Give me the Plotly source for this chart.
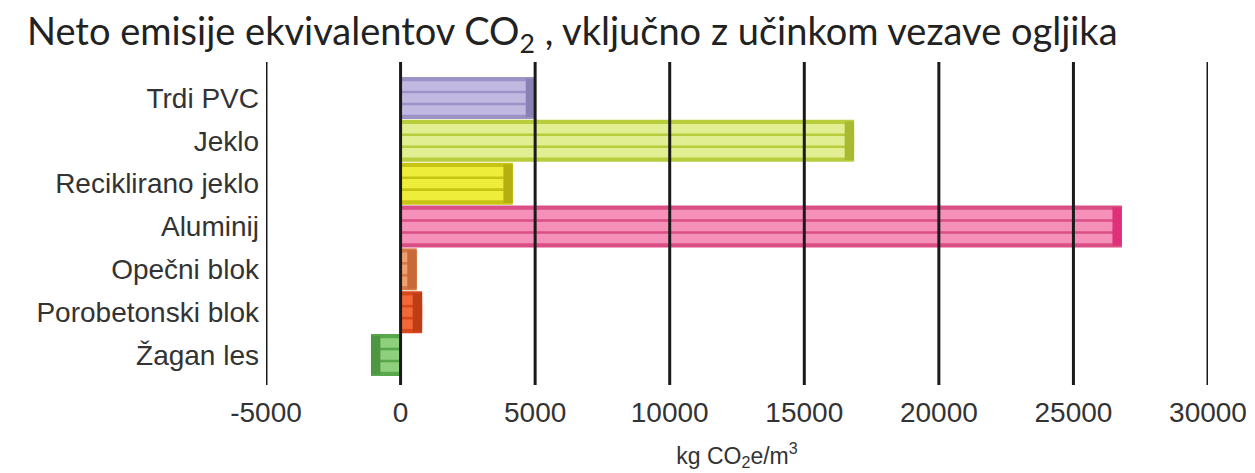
import plotly.graph_objects as go

categories = ["Trdi PVC", "Jeklo", "Reciklirano jeklo", "Aluminij", "Opečni blok", "Porobetonski blok", "Žagan les"]
values = [5000, 16850, 4170, 26800, 600, 800, -1100]
tick_vals = [-5000, 0, 5000, 10000, 15000, 20000, 25000, 30000]
tick_text = ["-5000", "0", "5000", "10000", "15000", "20000", "25000", "30000"]

dark_cols = ["#9c92c6", "#b9cc3c", "#c8c414", "#d94f86", "#d87a48", "#d9481c", "#5aa64c"]
light_cols = ["#c2b9e2", "#e2ee92", "#eeee3a", "#f590b9", "#f0a070", "#f26838", "#8fd07e"]
cap_cols = ["#8a80b5", "#a8bb30", "#b5b010", "#e0307a", "#c86a38", "#c03c14", "#4e9642"]

fig = go.Figure()
layers = [(0.98, dark_cols), (0.78, light_cols), (0.34, dark_cols), (0.22, light_cols)]
for w, cols in layers:
    fig.add_trace(go.Bar(
        y=categories, x=values, orientation="h", width=w,
        marker=dict(color=cols, line=dict(width=0)),
        hoverinfo="skip", showlegend=False,
    ))

cap = 350
fig.add_trace(go.Bar(
    y=categories, x=[cap if v > 0 else -cap for v in values],
    base=[v - cap if v > 0 else v + cap for v in values],
    orientation="h", width=0.9,
    marker=dict(color=cap_cols, line=dict(width=0)),
    hoverinfo="skip", showlegend=False,
))

for t in tick_vals:
    fig.add_shape(type="line", xref="x", yref="paper", x0=t, x1=t, y0=0, y1=1,
                  line=dict(color="#1a1a1a", width=3), layer="above")

fig.update_layout(
    barmode="overlay",
    width=1247, height=465,
    margin=dict(l=258, r=47, t=54, b=88, autoexpand=False),
    paper_bgcolor="white", plot_bgcolor="white",
    title=dict(text="Neto emisije ekvivalentov CO<sub>2</sub> , vključno z učinkom vezave ogljika",
               x=19 / 1247, xanchor="left", y=0.95, yanchor="middle",
               font=dict(family="Lato, Open Sans, sans-serif", size=38, color="#222")),
    xaxis=dict(range=[-5000, 30000], tickvals=tick_vals, ticktext=tick_text,
               showgrid=False, zeroline=False, showline=False, ticks="", automargin=False,
               ticklabelstandoff=8,
               tickfont=dict(family="Liberation Sans, Arial, sans-serif", size=28, color="#333"),
               title=dict(text="kg CO<sub>2</sub>e/m<sup>3</sup>",
                          font=dict(family="Liberation Sans, Arial, sans-serif", size=23, color="#333"),
                          standoff=20)),
    yaxis=dict(range=[6.7, -0.84], showgrid=False, zeroline=False, showline=False, ticks="",
               automargin=False, ticklabelstandoff=6,
               tickfont=dict(family="Liberation Sans, Arial, sans-serif", size=28, color="#333")),
)

fig.write_html("out.html")
